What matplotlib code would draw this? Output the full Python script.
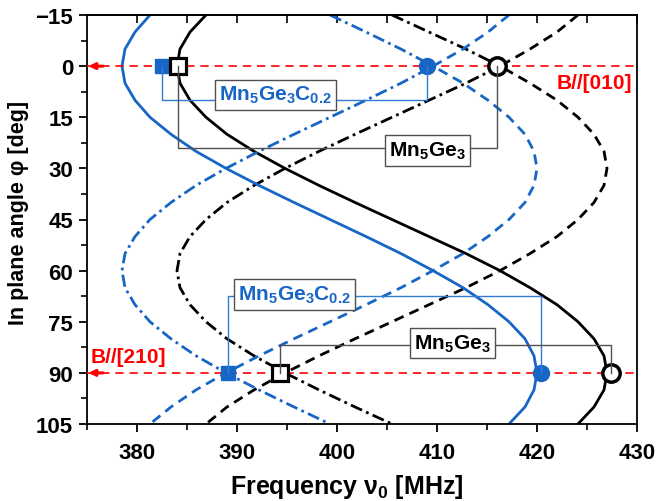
import matplotlib
matplotlib.use("Agg")
import matplotlib.pyplot as plt
from matplotlib.ticker import MultipleLocator

plt.rcParams['font.family'] = ['Liberation Sans', 'DejaVu Sans']
plt.rcParams['font.weight'] = 'bold'
plt.rcParams['mathtext.fontset'] = 'custom'
plt.rcParams['mathtext.rm'] = 'Liberation Sans:bold'
plt.rcParams['mathtext.bf'] = 'Liberation Sans:bold'
plt.rcParams['mathtext.it'] = 'Liberation Sans:bold'
plt.rcParams['mathtext.default'] = 'bf'

# ---------------- data ----------------
phi = [-15, -10, -5, 0, 5, 10, 15, 20, 25, 30, 35, 40, 45, 50, 55, 60,
       65, 70, 75, 80, 85, 90, 95, 100, 105]

black_solid = [386.9, 385.3, 384.3, 384.0, 384.3, 385.3, 386.9, 389.0, 391.7, 394.8,
               398.2, 401.8, 405.5, 409.2, 412.9, 416.3, 419.3, 422.0, 424.1, 425.7,
               426.7, 427.0, 426.7, 425.7, 424.1]
black_dashed = [424.1, 422.0, 419.3, 416.3, 419.3, 422.0, 424.1, 425.7, 426.7, 427.0,
                426.7, 425.7, 424.1, 422.0, 419.3, 416.3, 412.9, 409.2, 405.5, 401.8,
                398.2, 394.8, 391.7, 389.0, 386.9]
black_dashdot = [405.5, 409.2, 412.9, 416.3, 412.9, 409.2, 405.5, 401.8, 398.2, 394.8,
                 391.7, 389.0, 386.9, 385.3, 384.3, 384.0, 384.3, 385.3, 386.9, 389.0,
                 391.7, 394.8, 398.2, 401.8, 405.5]

blue_solid = [381.3, 379.8, 378.8, 378.5, 378.8, 379.8, 381.3, 383.4, 385.9, 388.9,
              392.2, 395.7, 399.3, 402.9, 406.4, 409.6, 412.6, 415.1, 417.2, 418.8,
              419.7, 420.0, 419.7, 418.8, 417.2]
blue_dashed = [417.2, 415.1, 412.6, 409.6, 412.6, 415.1, 417.2, 418.8, 419.7, 420.0,
               419.7, 418.8, 417.2, 415.1, 412.6, 409.6, 406.4, 402.9, 399.3, 395.7,
               392.2, 388.9, 385.9, 383.4, 381.3]
blue_dashdot = [399.3, 402.9, 406.4, 409.6, 406.4, 402.9, 399.3, 395.7, 392.2, 388.9,
                385.9, 383.4, 381.3, 379.8, 378.8, 378.5, 378.8, 379.8, 381.3, 383.4,
                385.9, 388.9, 392.2, 395.7, 399.3]

marker_phi = [0, 90]
blue_square_freq = [382.5, 389.1]
black_square_freq = [384.1, 394.3]
blue_circle_freq = [409.0, 420.4]
black_circle_freq = [416.0, 427.4]

field_phi = [0, 90]
field_labels = ['B//[010]', 'B//[210]']

label_blue = r'$Mn_5Ge_3C_{0.2}$'
label_black = r'$Mn_5Ge_3$'

# ---------------- figure ----------------
BLUE = '#1766C6'
fig = plt.figure(figsize=(6.57, 5.02), dpi=100)
ax = fig.add_axes([87/657, 1-425/502, 550/657, 409/502])

dash = (0, (3.6, 2.3))
dashdot = (0, (4.4, 1.6, 1.0, 1.6))
lw = 2.0

ax.plot(black_solid, phi, color='black', lw=lw, zorder=2)
ax.plot(black_dashed, phi, color='black', lw=lw, ls=dash, zorder=2)
ax.plot(black_dashdot, phi, color='black', lw=lw, ls=dashdot, zorder=2)
ax.plot(blue_solid, phi, color=BLUE, lw=lw, zorder=2)
ax.plot(blue_dashed, phi, color=BLUE, lw=lw, ls=dash, zorder=2)
ax.plot(blue_dashdot, phi, color=BLUE, lw=lw, ls=dashdot, zorder=2)

# field direction lines
for p in field_phi:
    ax.axhline(p, color='red', lw=1.2, ls=(0, (5, 3.5)), zorder=3)
    ax.annotate('', xy=(375.15, p), xytext=(376.6, p),
                arrowprops=dict(arrowstyle='-|>', color='red', lw=2.2,
                                mutation_scale=9, shrinkA=0, shrinkB=0),
                zorder=3)

ax.text(429.5, field_phi[0] + 4.7, field_labels[0], color='red', fontsize=15,
        fontweight='bold', ha='right', va='center', zorder=7)
ax.text(375.4, field_phi[1] - 4.8, field_labels[1], color='red', fontsize=15,
        fontweight='bold', ha='left', va='center', zorder=7)

# markers
ax.plot(blue_square_freq, marker_phi, ls='none', marker='s', ms=9.5,
        mfc=BLUE, mec=BLUE, zorder=4)
ax.plot(blue_circle_freq, marker_phi, ls='none', marker='o', ms=11.5,
        mfc=BLUE, mec=BLUE, zorder=4)
ax.plot(black_square_freq, marker_phi, ls='none', marker='s', ms=11,
        mfc='white', mec='black', mew=2.3, zorder=5)
ax.plot(black_circle_freq, marker_phi, ls='none', marker='o', ms=12.5,
        mfc='white', mec='black', mew=2.5, zorder=5)

# leader lines and label boxes
leader_levels_blue = [9.8, 67.4]
leader_levels_black = [24.0, 81.9]
box_blue = [(393.85, 8.4), (395.75, 67.0)]
box_black = [(409.05, 24.8), (411.55, 81.3)]

for i, p in enumerate(marker_phi):
    yb = leader_levels_blue[i]
    ax.plot([blue_square_freq[i], blue_square_freq[i], blue_circle_freq[i], blue_circle_freq[i]],
            [p, yb, yb, p], color='#2F7BD6', lw=1.0, zorder=6)
    yk = leader_levels_black[i]
    ax.plot([black_square_freq[i], black_square_freq[i], black_circle_freq[i], black_circle_freq[i]],
            [p, yk, yk, p], color='#505050', lw=1.0, zorder=6)
    ax.text(box_blue[i][0], box_blue[i][1], label_blue, color=BLUE, fontsize=15,
            ha='center', va='center', zorder=8,
            bbox=dict(boxstyle='square,pad=0.22', fc='white', ec='#505050', lw=1.0))
    ax.text(box_black[i][0], box_black[i][1], label_black, color='black', fontsize=15,
            ha='center', va='center', zorder=8,
            bbox=dict(boxstyle='square,pad=0.22', fc='white', ec='#505050', lw=1.0))

# axes
ax.set_xlim(375, 430)
ax.set_ylim(105, -15)
ax.xaxis.set_major_locator(MultipleLocator(10))
ax.xaxis.set_minor_locator(MultipleLocator(5))
ax.yaxis.set_major_locator(MultipleLocator(15))
ax.yaxis.set_minor_locator(MultipleLocator(7.5))
ax.tick_params(axis='both', which='major', direction='out', length=6, width=1.3,
               labelsize=16, top=False, right=False)
ax.tick_params(axis='x', which='major', pad=7)
ax.tick_params(axis='y', which='major', pad=4)
ax.tick_params(axis='both', which='minor', direction='out', length=4, width=1.2,
               top=False, right=False)
for lab in ax.get_xticklabels() + ax.get_yticklabels():
    lab.set_fontweight('bold')

secx = ax.secondary_xaxis('top')
secx.set_xticks(list(range(380, 431, 5)))
secx.tick_params(direction='in', length=5.5, width=1.2, labeltop=False)
secx.spines['top'].set_linewidth(1.3)

for s in ax.spines.values():
    s.set_linewidth(1.3)

ax.set_xlabel(r'Frequency $\nu_0$ [MHz]', fontsize=18, fontweight='bold')
ax.xaxis.label.set_va('center')
ax.xaxis.set_label_coords(0.472, -0.152)
ax.set_ylabel('In plane angle φ [deg]', fontsize=15.5, fontweight='bold')
ax.yaxis.label.set_va('center')
ax.yaxis.set_label_coords(-0.124, 0.518)

fig.savefig('out.png', dpi=100)
